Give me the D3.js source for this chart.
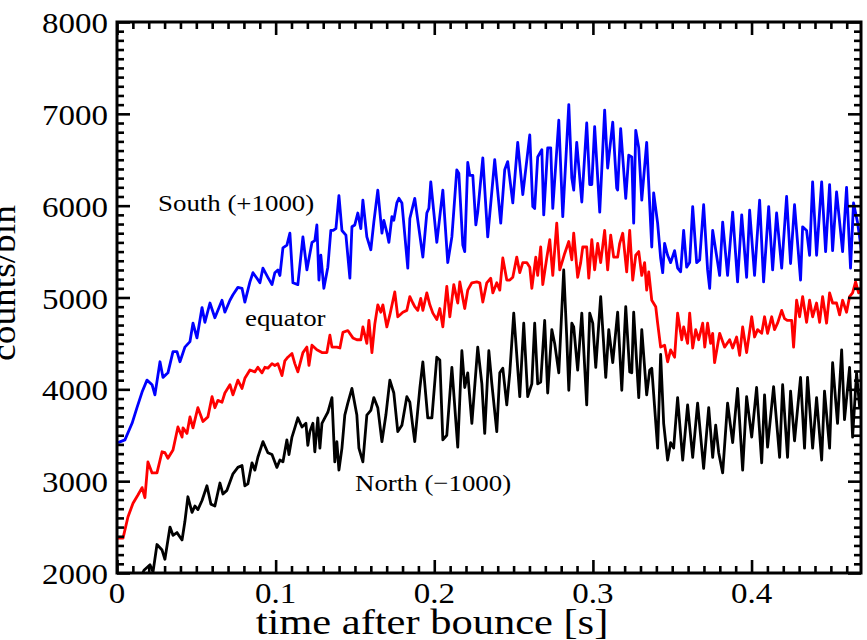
<!DOCTYPE html>
<html>
<head>
<meta charset="utf-8">
<script src="https://cdn.jsdelivr.net/npm/d3@7"></script>
<style>
  body { margin: 0; background: #fff; }
  text { font-family: "Liberation Serif", "Times New Roman", Times, serif; fill: #000; }
</style>
</head>
<body>
<svg id="chart" width="867" height="640"></svg>
<script>
// counts per bin vs. time after bounce [s], as [t, counts] pairs
const southCounts = [[0.0006,3420],[0.0050,3450],[0.0095,3630],[0.0126,3800],[0.0158,3970],[0.0189,4100],[0.0221,4050],[0.0239,3940],[0.0271,4300],[0.0290,4130],[0.0321,4180],[0.0353,4410],[0.0378,4410],[0.0397,4300],[0.0428,4460],[0.0460,4520],[0.0479,4720],[0.0504,4560],[0.0536,4890],[0.0554,4730],[0.0586,4940],[0.0617,4780],[0.0662,4970],[0.0680,4840],[0.0712,4970],[0.0731,5030],[0.0762,5110],[0.0788,5100],[0.0806,4950],[0.0838,5170],[0.0857,5270],[0.0882,5210],[0.0901,5160],[0.0920,5320],[0.0951,5220],[0.0977,5140],[0.0995,5270],[0.1014,5300],[0.1027,5240],[0.1046,5540],[0.1071,5570],[0.1090,5700],[0.1109,5160],[0.1140,5140],[0.1172,5660],[0.1197,5300],[0.1229,5600],[0.1247,5620],[0.1260,5790],[0.1273,5190],[0.1285,5460],[0.1304,5100],[0.1329,5330],[0.1348,5730],[0.1361,5730],[0.1380,5750],[0.1399,6110],[0.1418,5730],[0.1443,5680],[0.1468,5210],[0.1481,5770],[0.1499,5790],[0.1518,5920],[0.1537,5750],[0.1550,6060],[0.1575,5660],[0.1600,5520],[0.1619,5820],[0.1644,6170],[0.1670,5700],[0.1682,5840],[0.1701,5710],[0.1714,5600],[0.1733,5880],[0.1745,5840],[0.1764,6030],[0.1777,6080],[0.1796,6030],[0.1833,5320],[0.1846,5860],[0.1877,6080],[0.1928,5440],[0.1953,5920],[0.1966,5970],[0.1978,6260],[0.2016,5600],[0.2054,6170],[0.2085,5380],[0.2111,5660],[0.2142,6390],[0.2155,6350],[0.2180,5570],[0.2192,5500],[0.2211,6470],[0.2224,6330],[0.2243,6330],[0.2262,5790],[0.2274,5930],[0.2306,6520],[0.2337,5660],[0.2381,6500],[0.2419,5810],[0.2444,6390],[0.2463,6480],[0.2495,6030],[0.2526,6690],[0.2558,6120],[0.2602,6770],[0.2621,5990],[0.2633,5970],[0.2652,6530],[0.2678,6610],[0.2690,5900],[0.2715,6630],[0.2734,6630],[0.2747,5970],[0.2785,6930],[0.2810,5880],[0.2848,7100],[0.2867,6300],[0.2879,6170],[0.2898,6690],[0.2930,6040],[0.2961,6900],[0.2980,6230],[0.2993,6230],[0.3011,6860],[0.3043,5930],[0.3074,7040],[0.3093,6410],[0.3125,6910],[0.3150,6190],[0.3156,6170],[0.3175,6840],[0.3207,6080],[0.3226,6550],[0.3245,6530],[0.3257,5810],[0.3270,6820],[0.3289,6630],[0.3308,6060],[0.3339,6690],[0.3371,5550],[0.3383,6140],[0.3408,5810],[0.3427,5430],[0.3440,5270],[0.3452,5590],[0.3471,5460],[0.3490,5380],[0.3515,5510],[0.3534,5320],[0.3553,5280],[0.3572,5730],[0.3591,5330],[0.3610,5380],[0.3629,5990],[0.3654,5380],[0.3673,5410],[0.3698,6010],[0.3723,5300],[0.3736,5100],[0.3755,5730],[0.3799,5240],[0.3818,5820],[0.3849,5240],[0.3881,5930],[0.3912,5170],[0.3938,5900],[0.3969,5220],[0.3988,5950],[0.4019,5240],[0.4051,6060],[0.4076,5170],[0.4108,5990],[0.4133,5300],[0.4158,5920],[0.4190,5320],[0.4221,6100],[0.4246,5370],[0.4271,6010],[0.4309,5190],[0.4322,5770],[0.4347,5730],[0.4366,5460],[0.4385,6260],[0.4410,5460],[0.4442,6260],[0.4467,5500],[0.4492,6230],[0.4511,5510],[0.4536,6150],[0.4574,5500],[0.4599,6200],[0.4624,5320],[0.4643,6030],[0.4668,5820],[0.4694,5500]];

const equatorCounts = [[0.0006,2380],[0.0038,2380],[0.0069,2610],[0.0101,2760],[0.0132,2850],[0.0158,2930],[0.0176,2820],[0.0195,3210],[0.0221,3090],[0.0252,3090],[0.0284,3320],[0.0302,3310],[0.0321,3250],[0.0353,3340],[0.0384,3590],[0.0410,3480],[0.0416,3580],[0.0441,3520],[0.0460,3700],[0.0479,3580],[0.0510,3800],[0.0542,3650],[0.0573,3700],[0.0599,3920],[0.0617,3800],[0.0636,3880],[0.0662,3860],[0.0680,3960],[0.0712,4050],[0.0731,3940],[0.0762,4100],[0.0788,4010],[0.0806,4120],[0.0838,4210],[0.0869,4190],[0.0888,4240],[0.0914,4180],[0.0932,4240],[0.0951,4230],[0.0977,4280],[0.0995,4260],[0.1014,4280],[0.1040,4150],[0.1058,4310],[0.1077,4350],[0.1103,4390],[0.1121,4280],[0.1140,4190],[0.1172,4400],[0.1197,4460],[0.1210,4260],[0.1229,4480],[0.1260,4430],[0.1292,4400],[0.1323,4400],[0.1342,4590],[0.1355,4460],[0.1386,4460],[0.1405,4450],[0.1424,4620],[0.1455,4640],[0.1487,4560],[0.1512,4540],[0.1537,4540],[0.1550,4680],[0.1575,4500],[0.1588,4750],[0.1607,4400],[0.1625,4710],[0.1644,4920],[0.1663,4840],[0.1676,4920],[0.1701,4680],[0.1720,4810],[0.1751,5060],[0.1770,4790],[0.1783,4810],[0.1802,4840],[0.1827,4860],[0.1846,5010],[0.1865,4940],[0.1877,4900],[0.1896,4860],[0.1915,4990],[0.1928,4860],[0.1953,5050],[0.1972,4920],[0.1991,4830],[0.2016,4760],[0.2035,4880],[0.2054,4680],[0.2079,5120],[0.2098,4790],[0.2123,5140],[0.2148,4940],[0.2161,5170],[0.2192,4880],[0.2211,5080],[0.2237,5160],[0.2268,5170],[0.2287,5160],[0.2306,4950],[0.2331,5160],[0.2356,5210],[0.2369,5050],[0.2394,5160],[0.2413,5080],[0.2432,5430],[0.2457,5190],[0.2476,5190],[0.2495,5220],[0.2520,5440],[0.2539,5270],[0.2558,5380],[0.2583,5380],[0.2602,5330],[0.2615,5100],[0.2640,5440],[0.2652,5240],[0.2671,5550],[0.2684,5140],[0.2709,5430],[0.2728,5630],[0.2747,5240],[0.2772,5810],[0.2791,5300],[0.2810,5410],[0.2822,5480],[0.2848,5610],[0.2867,5410],[0.2879,5700],[0.2904,5220],[0.2923,5380],[0.2936,5550],[0.2961,5550],[0.2974,5210],[0.2993,5630],[0.3011,5300],[0.3030,5590],[0.3049,5380],[0.3074,5730],[0.3093,5300],[0.3112,5680],[0.3131,5440],[0.3156,5440],[0.3169,5590],[0.3188,5700],[0.3213,5280],[0.3232,5730],[0.3251,5190],[0.3270,5460],[0.3289,5500],[0.3308,5240],[0.3326,5380],[0.3339,5080],[0.3352,5280],[0.3371,4970],[0.3396,4900],[0.3408,4720],[0.3427,4460],[0.3452,4480],[0.3471,4300],[0.3490,4430],[0.3515,4350],[0.3534,4830],[0.3560,4540],[0.3572,4680],[0.3597,4500],[0.3610,4830],[0.3629,4450],[0.3648,4650],[0.3667,4540],[0.3692,4720],[0.3705,4460],[0.3723,4720],[0.3742,4500],[0.3755,4610],[0.3767,4290],[0.3799,4610],[0.3830,4460],[0.3862,4540],[0.3881,4450],[0.3906,4570],[0.3925,4370],[0.3944,4680],[0.3969,4400],[0.4001,4790],[0.4019,4570],[0.4038,4650],[0.4064,4610],[0.4082,4790],[0.4101,4610],[0.4127,4790],[0.4145,4650],[0.4164,4720],[0.4190,4860],[0.4208,4770],[0.4227,4750],[0.4253,4750],[0.4265,4460],[0.4284,4970],[0.4303,4790],[0.4322,5010],[0.4347,4730],[0.4366,4970],[0.4385,4790],[0.4410,4940],[0.4429,4730],[0.4448,5010],[0.4473,4720],[0.4492,5050],[0.4511,4940],[0.4536,4940],[0.4555,4810],[0.4574,4970],[0.4599,4840],[0.4618,5010],[0.4637,5050],[0.4656,5170],[0.4675,5050],[0.4694,5120]];

const northCounts = [[0.0000,1300],[0.0057,1550],[0.0107,1800],[0.0151,1960],[0.0170,2030],[0.0189,2060],[0.0208,2090],[0.0227,2010],[0.0252,2310],[0.0284,2250],[0.0302,2150],[0.0334,2500],[0.0353,2410],[0.0378,2440],[0.0410,2360],[0.0428,2560],[0.0447,2830],[0.0473,2660],[0.0491,2730],[0.0510,2690],[0.0536,2790],[0.0567,2950],[0.0592,2750],[0.0617,2730],[0.0649,2980],[0.0668,2860],[0.0693,2900],[0.0712,2990],[0.0731,3080],[0.0762,3150],[0.0788,3170],[0.0806,2950],[0.0825,2970],[0.0851,3200],[0.0869,3120],[0.0888,3260],[0.0920,3430],[0.0951,3310],[0.0977,3290],[0.1008,3150],[0.1027,3230],[0.1046,3210],[0.1071,3450],[0.1084,3290],[0.1103,3480],[0.1121,3580],[0.1140,3690],[0.1166,3590],[0.1191,3630],[0.1203,3390],[0.1216,3540],[0.1235,3630],[0.1247,3320],[0.1266,3690],[0.1279,3360],[0.1292,3630],[0.1310,3690],[0.1329,3750],[0.1355,3910],[0.1373,3210],[0.1386,3430],[0.1399,3120],[0.1418,3360],[0.1436,3720],[0.1455,3850],[0.1481,4010],[0.1512,3720],[0.1525,3360],[0.1550,3210],[0.1575,3720],[0.1600,3770],[0.1619,3910],[0.1644,3800],[0.1670,3430],[0.1695,3720],[0.1720,4100],[0.1745,3960],[0.1770,3540],[0.1796,3610],[0.1827,3920],[0.1846,3860],[0.1865,3590],[0.1877,3430],[0.1909,4010],[0.1928,4300],[0.1959,3690],[0.1985,3690],[0.2016,4350],[0.2035,4320],[0.2054,3450],[0.2079,3500],[0.2111,4240],[0.2148,3370],[0.2174,4420],[0.2192,4020],[0.2211,4180],[0.2237,3630],[0.2274,4460],[0.2300,4060],[0.2318,3520],[0.2344,4420],[0.2363,4060],[0.2394,3540],[0.2413,4180],[0.2432,4230],[0.2457,3830],[0.2476,4180],[0.2501,4830],[0.2539,3920],[0.2564,4720],[0.2589,3920],[0.2615,4060],[0.2633,4720],[0.2652,4060],[0.2671,4080],[0.2696,4750],[0.2715,3960],[0.2741,4650],[0.2759,4500],[0.2785,4180],[0.2816,5300],[0.2835,4570],[0.2848,3990],[0.2867,4720],[0.2879,4680],[0.2904,4210],[0.2930,4830],[0.2961,3830],[0.2980,4830],[0.2999,4720],[0.3018,4240],[0.3049,5010],[0.3081,4130],[0.3100,4650],[0.3125,4290],[0.3156,4840],[0.3182,3990],[0.3207,4900],[0.3232,4190],[0.3245,4180],[0.3257,4840],[0.3289,3910],[0.3308,4650],[0.3339,3940],[0.3358,4210],[0.3371,4230],[0.3408,3360],[0.3427,4380],[0.3446,3630],[0.3471,3230],[0.3490,3420],[0.3509,3360],[0.3534,3910],[0.3566,3230],[0.3597,3830],[0.3629,3260],[0.3660,3850],[0.3698,3140],[0.3730,3800],[0.3755,3260],[0.3774,3610],[0.3793,3310],[0.3818,3090],[0.3849,3850],[0.3881,3420],[0.3912,4010],[0.3944,3120],[0.3969,3920],[0.4001,3480],[0.4032,4020],[0.4064,3200],[0.4082,3940],[0.4101,3370],[0.4139,4030],[0.4177,3260],[0.4196,4050],[0.4227,3260],[0.4246,3980],[0.4271,3440],[0.4309,4130],[0.4334,3360],[0.4353,4130],[0.4385,3360],[0.4410,3910],[0.4442,3230],[0.4460,3980],[0.4492,3360],[0.4511,4290],[0.4542,3630],[0.4568,4430],[0.4586,3670],[0.4618,4240],[0.4637,3480],[0.4662,4180],[0.4681,3810],[0.4694,4000]];

const seriesColors = ["#0000ff", "#ff0000", "#000000"];
const seriesNames = ["South (+1000)", "equator", "North (\u22121000)"];

const yTickValues = [2000, 3000, 4000, 5000, 6000, 7000, 8000];
const yTickLabels = ["2000", "3000", "4000", "5000", "6000", "7000", "8000"];
const xTickValues = [0, 0.1, 0.2, 0.3, 0.4];
const xTickLabels = ["0", "0.1", "0.2", "0.3", "0.4"];
const xTitle = "time after bounce [s]";
const yTitle = "counts/bin";

const svg = d3.select("#chart");
const frame = { left: 117, right: 861, top: 22, bottom: 573 };
const stretch = "scale(1.1,1)";

const x = d3.scaleLinear().domain([0, 0.469]).range([frame.left, frame.right]);
const y = d3.scaleLinear().domain([2000, 8000]).range([frame.bottom, frame.top]);

svg.append("defs").append("clipPath").attr("id", "plot-clip")
  .append("rect")
  .attr("x", frame.left).attr("y", frame.top)
  .attr("width", frame.right - frame.left).attr("height", frame.bottom - frame.top);

// the three curves
const line = d3.line().x(d => x(d[0])).y(d => y(d[1]));
const curves = svg.append("g").attr("clip-path", "url(#plot-clip)");
[southCounts, equatorCounts, northCounts].forEach((data, i) => {
  curves.append("path")
    .datum(data)
    .attr("d", line)
    .attr("fill", "none")
    .attr("stroke", seriesColors[i])
    .attr("stroke-width", 2.8)
    .attr("stroke-linejoin", "round");
});

// inward ticks on all four sides
const xMinor = d3.range(0, 0.4695, 0.01).filter(v => Math.abs(v * 10 - Math.round(v * 10)) > 1e-6);
const yMinor = d3.range(2000, 8001, 100).filter(v => v % 1000 !== 0);

function tickRow(gen, values, size, translate) {
  svg.append("g")
    .attr("transform", translate)
    .call(gen.tickValues(values).tickSize(-size).tickSizeOuter(0).tickFormat(""))
    .call(g => g.select(".domain").remove())
    .selectAll("line").attr("stroke", "#000").attr("stroke-width", 2.6);
}
tickRow(d3.axisLeft(y), yTickValues, 13, `translate(${frame.left},0)`);
tickRow(d3.axisLeft(y), yMinor, 7, `translate(${frame.left},0)`);
tickRow(d3.axisRight(y), yTickValues, 13, `translate(${frame.right},0)`);
tickRow(d3.axisRight(y), yMinor, 7, `translate(${frame.right},0)`);
tickRow(d3.axisBottom(x), xTickValues, 13, `translate(0,${frame.bottom})`);
tickRow(d3.axisBottom(x), xMinor, 7, `translate(0,${frame.bottom})`);
tickRow(d3.axisTop(x), xTickValues, 13, `translate(0,${frame.top})`);
tickRow(d3.axisTop(x), xMinor, 7, `translate(0,${frame.top})`);

// frame
svg.append("rect")
  .attr("x", frame.left).attr("y", frame.top)
  .attr("width", frame.right - frame.left).attr("height", frame.bottom - frame.top)
  .attr("fill", "none").attr("stroke", "#000").attr("stroke-width", 3);

// tick labels
svg.append("g").selectAll("text")
  .data(yTickValues)
  .join("text")
  .attr("transform", (d) => `translate(108,${y(d) + 11}) ${stretch}`)
  .attr("text-anchor", "end")
  .attr("font-size", 30)
  .text((d, i) => yTickLabels[i]);

svg.append("g").selectAll("text")
  .data(xTickValues)
  .join("text")
  .attr("transform", (d) => `translate(${x(d)},603) ${stretch}`)
  .attr("text-anchor", "middle")
  .attr("font-size", 30)
  .text((d, i) => xTickLabels[i]);

// axis titles
svg.append("text")
  .attr("transform", `translate(432,634) scale(1.18,1)`)
  .attr("text-anchor", "middle")
  .attr("font-size", 36)
  .text(xTitle);

svg.append("text")
  .attr("transform", `translate(15,283) rotate(-90) ${stretch}`)
  .attr("text-anchor", "middle")
  .attr("font-size", 34)
  .text(yTitle);

// curve labels
const labelPos = [[158, 211], [245, 326], [355, 491]];
svg.append("g").selectAll("text")
  .data(seriesNames)
  .join("text")
  .attr("transform", (d, i) => `translate(${labelPos[i][0]},${labelPos[i][1]}) scale(1.12,1)`)
  .attr("font-size", 24)
  .text(d => d);
</script>
</body>
</html>
